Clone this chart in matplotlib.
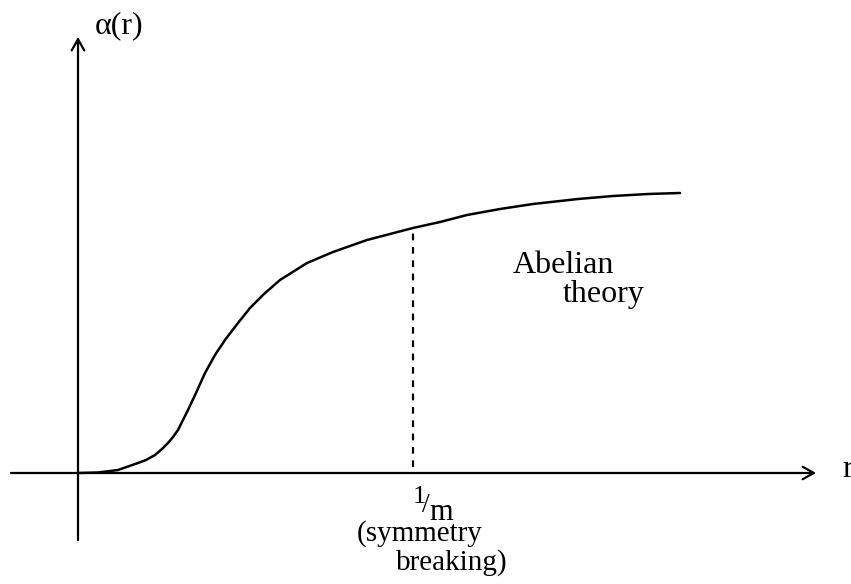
import numpy as np
import matplotlib
matplotlib.use('Agg')
import matplotlib.pyplot as plt

# curve alpha(r)
r = [0.0, 0.20, 0.40, 0.60, 0.68, 0.77, 0.84, 0.90, 0.95, 1.00, 1.05,
     1.10, 1.18, 1.27, 1.37, 1.47, 1.60, 1.72, 1.86, 2.02, 2.29, 2.55,
     2.89, 3.35, 3.62, 3.89, 4.22, 4.55, 5.00, 5.35, 5.70, 6.02]
alpha = [0.0, 0.005, 0.03, 0.10, 0.13, 0.18, 0.24, 0.30, 0.36, 0.43, 0.53,
         0.63, 0.80, 1.00, 1.18, 1.33, 1.50, 1.65, 1.79, 1.93, 2.10, 2.21,
         2.33, 2.45, 2.51, 2.58, 2.64, 2.69, 2.74, 2.77, 2.79, 2.80]

# symmetry breaking scale 1/m
r_m = 3.35

plt.rcParams['font.family'] = ['Liberation Serif', 'DejaVu Serif']

fig = plt.figure(figsize=(8.51, 5.84), dpi=100)
ax = fig.add_axes([0, 0, 1, 1])
ax.set_xlim(-0.78, 7.73)
ax.set_ylim(-1.11, 4.73)
ax.axis('off')

# axes with open arrow heads
arrow = dict(arrowstyle='->, head_length=0.8, head_width=0.45', lw=1.6,
             color='black', shrinkA=0, shrinkB=0)
ax.annotate('', xy=(7.38, 0), xytext=(-0.67, 0), arrowprops=arrow)
ax.annotate('', xy=(0, 4.36), xytext=(0, -0.67), arrowprops=arrow)

# the curve
ax.plot(r, alpha, color='black', lw=1.8, solid_capstyle='round',
        solid_joinstyle='round')

# dashed line at r = 1/m
ax.plot([r_m, r_m], [0.06, np.interp(r_m, r, alpha)], color='black',
        lw=1.6, ls=(0, (3, 3)))

ax.text(0.17, 4.40, 'α(r)', fontsize=23, va='baseline')
ax.text(7.64, -0.04, 'r', fontsize=23, va='baseline')
ax.text(4.35, 2.00, 'Abelian', fontsize=23, va='baseline')
ax.text(4.85, 1.71, 'theory', fontsize=23, va='baseline')

# 1/m written as a slanted fraction
ax.text(3.35, -0.30, '1', fontsize=19, va='baseline')
ax.text(3.44, -0.39, '/', fontsize=20, va='baseline')
ax.text(3.51, -0.47, 'm', fontsize=22, va='baseline')
ax.text(2.79, -0.68, '(symmetry', fontsize=21, va='baseline')
ax.text(3.18, -0.97, 'breaking)', fontsize=21, va='baseline')

fig.savefig('out.png', dpi=100)
